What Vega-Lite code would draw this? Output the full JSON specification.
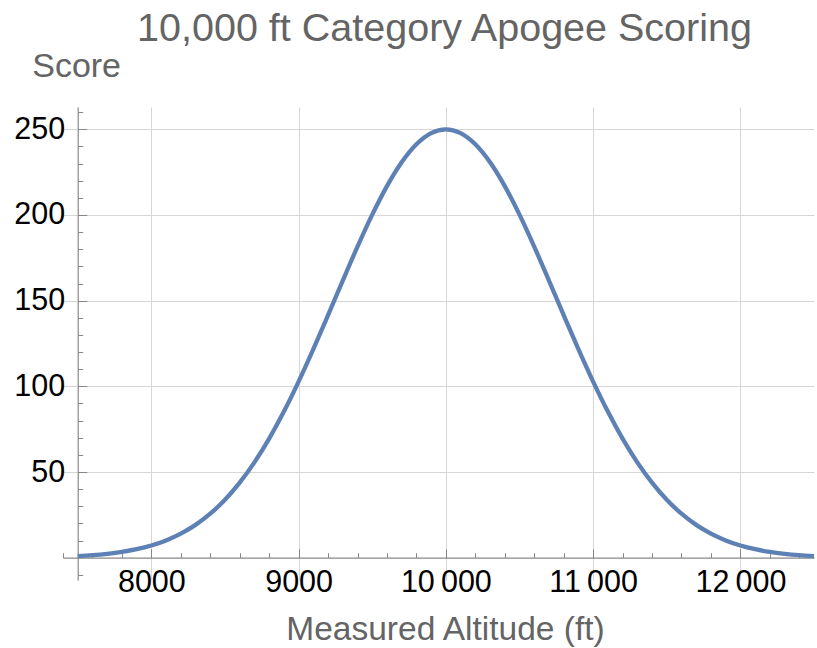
{
  "$schema": "https://vega.github.io/schema/vega-lite/v6.json",
  "width": 751,
  "height": 473,
  "autosize": {"type": "none"},
  "padding": {"left": 63, "top": 107, "right": 3, "bottom": 68},
  "background": "white",
  "title": {
    "text": "10,000 ft Category Apogee Scoring",
    "font": "Liberation Sans",
    "fontSize": 39.5,
    "fontWeight": "normal",
    "color": "#646464",
    "anchor": "middle",
    "offset": 0,
    "dx": 6
  },
  "config": {"view": {"stroke": null}},
  "data": {
    "values": [
      {"altitude": 7500, "score": 0.97},
      {"altitude": 7600, "score": 1.49},
      {"altitude": 7700, "score": 2.27},
      {"altitude": 7800, "score": 3.38},
      {"altitude": 7900, "score": 4.96},
      {"altitude": 8000, "score": 7.14},
      {"altitude": 8100, "score": 10.10},
      {"altitude": 8200, "score": 14.03},
      {"altitude": 8300, "score": 19.15},
      {"altitude": 8400, "score": 25.68},
      {"altitude": 8500, "score": 33.83},
      {"altitude": 8600, "score": 43.79},
      {"altitude": 8700, "score": 55.66},
      {"altitude": 8800, "score": 69.51},
      {"altitude": 8900, "score": 85.28},
      {"altitude": 9000, "score": 102.78},
      {"altitude": 9100, "score": 121.69},
      {"altitude": 9200, "score": 141.54},
      {"altitude": 9300, "score": 161.73},
      {"altitude": 9400, "score": 181.54},
      {"altitude": 9500, "score": 200.18},
      {"altitude": 9600, "score": 216.86},
      {"altitude": 9700, "score": 230.78},
      {"altitude": 9800, "score": 241.27},
      {"altitude": 9900, "score": 247.79},
      {"altitude": 10000, "score": 250},
      {"altitude": 10100, "score": 247.79},
      {"altitude": 10200, "score": 241.27},
      {"altitude": 10300, "score": 230.78},
      {"altitude": 10400, "score": 216.86},
      {"altitude": 10500, "score": 200.18},
      {"altitude": 10600, "score": 181.54},
      {"altitude": 10700, "score": 161.73},
      {"altitude": 10800, "score": 141.54},
      {"altitude": 10900, "score": 121.69},
      {"altitude": 11000, "score": 102.78},
      {"altitude": 11100, "score": 85.28},
      {"altitude": 11200, "score": 69.51},
      {"altitude": 11300, "score": 55.66},
      {"altitude": 11400, "score": 43.79},
      {"altitude": 11500, "score": 33.83},
      {"altitude": 11600, "score": 25.68},
      {"altitude": 11700, "score": 19.15},
      {"altitude": 11800, "score": 14.03},
      {"altitude": 11900, "score": 10.10},
      {"altitude": 12000, "score": 7.14},
      {"altitude": 12100, "score": 4.96},
      {"altitude": 12200, "score": 3.38},
      {"altitude": 12300, "score": 2.27},
      {"altitude": 12400, "score": 1.49},
      {"altitude": 12500, "score": 0.97}
    ]
  },
  "mark": {"type": "line", "color": "#5e81b5", "strokeWidth": 4.3, "interpolate": "monotone", "clip": true},
  "encoding": {
    "x": {
      "field": "altitude",
      "type": "quantitative",
      "scale": {"domain": [7400, 12500], "nice": false, "zero": false},
      "axis": {
        "title": "Measured Altitude (ft)",
        "titleFont": "Liberation Sans",
        "titleFontSize": 33.5,
        "titleFontWeight": "normal",
        "titleColor": "#646464",
        "titleX": 382,
        "titleY": 82,
        "titleAlign": "center",
        "titleBaseline": "alphabetic",
        "titleAnchor": null,
        "offset": -22.3,
        "values": [7400, 7600, 7800, 8000, 8200, 8400, 8600, 8800, 9000, 9200, 9400, 9600, 9800, 10000, 10200, 10400, 10600, 10800, 11000, 11200, 11400, 11600, 11800, 12000, 12200, 12400],
        "labelExpr": "datum.value % 1000 === 0 ? (datum.value >= 10000 ? floor(datum.value / 1000) + '\u2009000' : '' + datum.value) : ''",
        "labelFont": "Liberation Sans",
        "labelFontSize": 30.5,
        "labelColor": "#000000",
        "labelPadding": 19,
        "labelFlush": false,
        "labelOverlap": false,
        "domainColor": "#888888",
        "domainWidth": 1.2,
        "tickColor": "#888888",
        "tickWidth": 1,
        "tickSize": {"condition": {"test": "datum.value % 1000 === 0", "value": -9}, "value": -5},
        "grid": true,
        "gridColor": "#d6d6d6",
        "gridWidth": 1,
        "gridOpacity": {"condition": {"test": "datum.value % 1000 === 0", "value": 1}, "value": 0}
      }
    },
    "y": {
      "field": "score",
      "type": "quantitative",
      "scale": {"domain": [-13, 263], "nice": false, "zero": false},
      "axis": {
        "title": "Score",
        "titleFont": "Liberation Sans",
        "titleFontSize": 34,
        "titleFontWeight": "normal",
        "titleColor": "#646464",
        "titleAngle": 0,
        "titleX": -46,
        "titleY": -31,
        "titleAlign": "left",
        "titleBaseline": "alphabetic",
        "titleAnchor": null,
        "offset": -14.7,
        "values": [-10, 10, 20, 30, 40, 50, 60, 70, 80, 90, 100, 110, 120, 130, 140, 150, 160, 170, 180, 190, 200, 210, 220, 230, 240, 250, 260],
        "labelExpr": "datum.value % 50 === 0 && datum.value > 0 ? datum.label : ''",
        "labelFont": "Liberation Sans",
        "labelFontSize": 30.5,
        "labelColor": "#000000",
        "labelPadding": 22,
        "labelFlush": false,
        "labelOverlap": false,
        "domainColor": "#888888",
        "domainWidth": 1.2,
        "tickColor": "#888888",
        "tickWidth": 1,
        "tickSize": {"condition": {"test": "datum.value % 50 === 0", "value": -9}, "value": -5},
        "grid": true,
        "gridColor": "#d6d6d6",
        "gridWidth": 1,
        "gridOpacity": {"condition": {"test": "datum.value % 50 === 0 && datum.value > 0", "value": 1}, "value": 0}
      }
    }
  }
}
